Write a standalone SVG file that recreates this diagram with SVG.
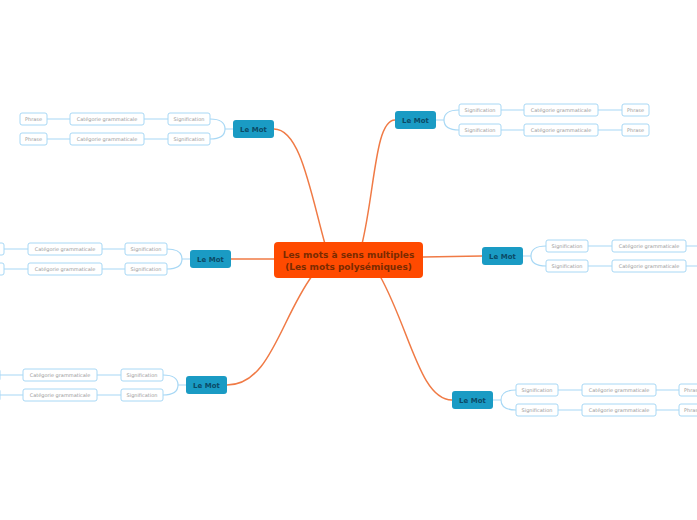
<svg xmlns="http://www.w3.org/2000/svg" width="697" height="520" viewBox="0 0 697 520">
<style>
.c{fill:none;stroke:#f07a45;stroke-width:1.5}
.b{fill:none;stroke:#a8d8f5;stroke-width:1.2}
.m rect{fill:#1a9bc4;}
.m text{font:bold 7px "DejaVu Sans",sans-serif;fill:#0b4a66;text-anchor:middle}
.s rect{fill:#fff;stroke:#a8d8f5;stroke-width:1}
.s text{font:5px "DejaVu Sans",sans-serif;fill:#999;text-anchor:middle}
</style>
<rect width="697" height="520" fill="#fff"/>
<g id="connectors">
<path class="c" d="M325,244 C310,190 300,129 274,129"/>
<path class="c" d="M362,244 C375,190 375,120 395,120"/>
<path class="c" d="M274,259 H231"/>
<path class="c" d="M423,257 L482,256"/>
<path class="c" d="M312,276 C280,320 270,385 227,385"/>
<path class="c" d="M380,276 C410,330 420,400 452,400"/>
<path class="b" d="M233,129H225M225,129Q225,119 210,119M225,129Q225,139 210,139M168,119H144M168,139H144M70,119H47M70,139H47"/>
<path class="b" d="M190,259H182M182,259Q182,249 167,249M182,259Q182,269 167,269M125,249H102M125,269H102M28,249H4M28,269H4"/>
<path class="b" d="M186,385H178M178,385Q178,375 163,375M178,385Q178,395 163,395M121,375H97M121,395H97M23,375H0M23,395H0"/>
<path class="b" d="M436,120H444M444,120Q444,110 459,110M444,120Q444,130 459,130M501,110H524M501,130H524M598,110H622M598,130H622"/>
<path class="b" d="M523,256H531M531,256Q531,246 546,246M531,256Q531,266 546,266M588,246H612M588,266H612M686,246H710M686,266H710"/>
<path class="b" d="M493,400H501M501,400Q501,390 516,390M501,400Q501,410 516,410M558,390H582M558,410H582M656,390H679M656,410H679"/>
</g>
<g id="center"><rect x="274" y="242" width="149" height="36" rx="4" fill="#ff4a00"/>
<text x="348.5" y="258" font-family="DejaVu Sans,sans-serif" font-weight="bold" font-size="9" fill="#7a2a00" text-anchor="middle">Les mots à sens multiples</text>
<text x="348.5" y="270" font-family="DejaVu Sans,sans-serif" font-weight="bold" font-size="9" fill="#7a2a00" text-anchor="middle">(Les mots polysémiques)</text></g>
<g id="m1" class="m"><rect x="233" y="120" width="41" height="18" rx="3"/><text x="253.5" y="131.5">Le Mot</text></g>
<g id="m2" class="m"><rect x="395" y="111" width="41" height="18" rx="3"/><text x="415.5" y="122.5">Le Mot</text></g>
<g id="m3" class="m"><rect x="190" y="250" width="41" height="18" rx="3"/><text x="210.5" y="261.5">Le Mot</text></g>
<g id="m4" class="m"><rect x="482" y="247" width="41" height="18" rx="3"/><text x="502.5" y="258.5">Le Mot</text></g>
<g id="m5" class="m"><rect x="186" y="376" width="41" height="18" rx="3"/><text x="206.5" y="387.5">Le Mot</text></g>
<g id="m6" class="m"><rect x="452" y="391" width="41" height="18" rx="3"/><text x="472.5" y="402.5">Le Mot</text></g>
<g id="n1" class="s">
<rect x="168" y="113" width="42" height="12" rx="2"/><text x="189" y="121">Signification</text>
<rect x="168" y="133" width="42" height="12" rx="2"/><text x="189" y="141">Signification</text>
<rect x="70" y="113" width="74" height="12" rx="2"/><text x="107" y="121">Catégorie grammaticale</text>
<rect x="70" y="133" width="74" height="12" rx="2"/><text x="107" y="141">Catégorie grammaticale</text>
<rect x="20" y="113" width="27" height="12" rx="2"/><text x="33.5" y="121">Phrase</text>
<rect x="20" y="133" width="27" height="12" rx="2"/><text x="33.5" y="141">Phrase</text>
</g>
<g id="n3" class="s">
<rect x="125" y="243" width="42" height="12" rx="2"/><text x="146" y="251">Signification</text>
<rect x="125" y="263" width="42" height="12" rx="2"/><text x="146" y="271">Signification</text>
<rect x="28" y="243" width="74" height="12" rx="2"/><text x="65" y="251">Catégorie grammaticale</text>
<rect x="28" y="263" width="74" height="12" rx="2"/><text x="65" y="271">Catégorie grammaticale</text>
<rect x="-23" y="243" width="27" height="12" rx="2"/><text x="-9.5" y="251">Phrase</text>
<rect x="-23" y="263" width="27" height="12" rx="2"/><text x="-9.5" y="271">Phrase</text>
</g>
<g id="n5" class="s">
<rect x="121" y="369" width="42" height="12" rx="2"/><text x="142" y="377">Signification</text>
<rect x="121" y="389" width="42" height="12" rx="2"/><text x="142" y="397">Signification</text>
<rect x="23" y="369" width="74" height="12" rx="2"/><text x="60" y="377">Catégorie grammaticale</text>
<rect x="23" y="389" width="74" height="12" rx="2"/><text x="60" y="397">Catégorie grammaticale</text>
<rect x="-27" y="369" width="27" height="12" rx="2"/><text x="-13.5" y="377">Phrase</text>
<rect x="-27" y="389" width="27" height="12" rx="2"/><text x="-13.5" y="397">Phrase</text>
</g>
<g id="n2" class="s">
<rect x="459" y="104" width="42" height="12" rx="2"/><text x="480" y="112">Signification</text>
<rect x="459" y="124" width="42" height="12" rx="2"/><text x="480" y="132">Signification</text>
<rect x="524" y="104" width="74" height="12" rx="2"/><text x="561" y="112">Catégorie grammaticale</text>
<rect x="524" y="124" width="74" height="12" rx="2"/><text x="561" y="132">Catégorie grammaticale</text>
<rect x="622" y="104" width="27" height="12" rx="2"/><text x="635.5" y="112">Phrase</text>
<rect x="622" y="124" width="27" height="12" rx="2"/><text x="635.5" y="132">Phrase</text>
</g>
<g id="n4" class="s">
<rect x="546" y="240" width="42" height="12" rx="2"/><text x="567" y="248">Signification</text>
<rect x="546" y="260" width="42" height="12" rx="2"/><text x="567" y="268">Signification</text>
<rect x="612" y="240" width="74" height="12" rx="2"/><text x="649" y="248">Catégorie grammaticale</text>
<rect x="612" y="260" width="74" height="12" rx="2"/><text x="649" y="268">Catégorie grammaticale</text>
<rect x="710" y="240" width="27" height="12" rx="2"/><text x="723.5" y="248">Phrase</text>
<rect x="710" y="260" width="27" height="12" rx="2"/><text x="723.5" y="268">Phrase</text>
</g>
<g id="n6" class="s">
<rect x="516" y="384" width="42" height="12" rx="2"/><text x="537" y="392">Signification</text>
<rect x="516" y="404" width="42" height="12" rx="2"/><text x="537" y="412">Signification</text>
<rect x="582" y="384" width="74" height="12" rx="2"/><text x="619" y="392">Catégorie grammaticale</text>
<rect x="582" y="404" width="74" height="12" rx="2"/><text x="619" y="412">Catégorie grammaticale</text>
<rect x="679" y="384" width="27" height="12" rx="2"/><text x="692.5" y="392">Phrase</text>
<rect x="679" y="404" width="27" height="12" rx="2"/><text x="692.5" y="412">Phrase</text>
</g>
</svg>
